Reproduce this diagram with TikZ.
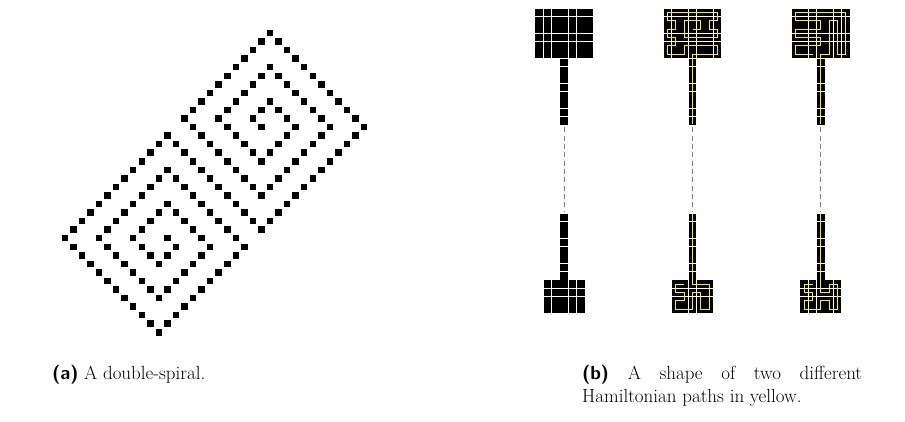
\documentclass[tikz,border=0pt]{standalone}
\tikzset{
  dsq/.style={fill=black},
  cellsq/.style={fill=black},
  ypath/.style={draw={rgb,255:red,255;green,240;blue,0}, line width=1.25pt, line join=miter},
  dashline/.style={draw=gray, line width=0.9pt, dash pattern=on 5pt off 3.33pt},
  captext/.style={anchor=base west, inner sep=0pt, font=\mycapfont},
}
\newcommand\mycapfont{\fontsize{19}{23}\selectfont}
\newcommand\dcell[2]{%
  \fill[dsq] ({270+8.55*((#1)-(#2))-3.25},{33+8.55*((#1)+(#2))-3.25}) rectangle ++(6.5,6.5);
  \fill[dsq] ({270+8.55*((#2)-(#1)-13)-3.25},{33+8.55*(35-(#1)-(#2))-3.25}) rectangle ++(6.5,6.5);
}
\begin{document}
\begin{tikzpicture}[x=1pt,y=-1pt]
\useasboundingbox (0,0) rectangle (905,421);

% ---------- (a) double spiral ----------
\dcell{5}{6}
\foreach \v in {4,5,6} {\dcell{4}{\v}}
\foreach \u in {5,6,7} {\dcell{\u}{4}}
\foreach \v in {5,...,8} {\dcell{7}{\v}}
\foreach \u in {2,...,6} {\dcell{\u}{8}}
\foreach \v in {2,...,7} {\dcell{2}{\v}}
\foreach \u in {3,...,9} {\dcell{\u}{2}}
\foreach \v in {3,...,10} {\dcell{9}{\v}}
\foreach \u in {0,...,8} {\dcell{\u}{10}}
\foreach \v in {0,...,9} {\dcell{0}{\v}}
\foreach \u in {1,...,11} {\dcell{\u}{0}}
\foreach \v in {1,...,12} {\dcell{11}{\v}}
\foreach \u in {0,...,10} {\dcell{\u}{12}}

% ---------- (b) shapes ----------
\foreach \k in {0,1,2} {
  \begin{scope}[shift={({535+128.333*\k},8.333)}, x=8.333pt, y=-8.333pt]
    \foreach \c in {0,...,6} {\foreach \r in {0,...,5} {\fill[cellsq] (\c+0.055,\r+0.055) rectangle (\c+0.945,\r+0.945);}}
    \foreach \r in {6,...,13} {\fill[cellsq] (3.055,\r+0.055) rectangle (3.945,\r+0.945);}
    \coordinate (stemtop\k) at (3.5,14);
  \end{scope}
  \begin{scope}[shift={({543.333+128.333*\k},280)}, x=8.333pt, y=-8.333pt]
    \foreach \c in {0,...,4} {\foreach \r in {0,...,3} {\fill[cellsq] (\c+0.055,\r+0.055) rectangle (\c+0.945,\r+0.945);}}
    \foreach \r in {-8,...,-1} {\fill[cellsq] (2.055,\r+0.055) rectangle (2.945,\r+0.945);}
    \coordinate (stembot\k) at (2.5,-8);
  \end{scope}
  \draw[dashline, shorten <=2.5pt, shorten >=1.5pt] (stemtop\k) -- (stembot\k);
}

% yellow paths, shape 2
\begin{scope}[shift={(663.333,8.333)}, x=8.333pt, y=-8.333pt]
  \draw[ypath] (3.5,2.5) -- (4.5,2.5) -- (4.5,1.5) -- (2.5,1.5) -- (2.5,3.5) -- (6.5,3.5) -- (6.5,2.5) -- (5.5,2.5) -- (5.5,1.5) -- (6.5,1.5) -- (6.5,0.5) -- (0.5,0.5) -- (0.5,1.5) -- (1.5,1.5) -- (1.5,2.5) -- (0.5,2.5) -- (0.5,3.5) -- (1.5,3.5) -- (1.5,4.5) -- (0.5,4.5) -- (0.5,5.5) -- (2.5,5.5) -- (2.5,4.5) -- (6.5,4.5) -- (6.5,5.5) -- (3.5,5.5) -- (3.5,13.9);
\end{scope}
\begin{scope}[shift={(671.667,280)}, x=8.333pt, y=-8.333pt]
  \draw[ypath] (2.5,-7.9) -- (2.5,0.5) -- (4.5,0.5) -- (4.5,3.5) -- (3.5,3.5) -- (3.5,1.5) -- (2.5,1.5) -- (2.5,3.5) -- (0.5,3.5) -- (0.5,2.5) -- (1.5,2.5) -- (1.5,1.5) -- (0.5,1.5) -- (0.5,0.5) -- (1.5,0.5);
\end{scope}

% yellow paths, shape 3
\begin{scope}[shift={(791.667,8.333)}, x=8.333pt, y=-8.333pt]
  \draw[ypath] (2.5,5.5) -- (0.5,5.5) -- (0.5,4.5) -- (3.5,4.5) -- (3.5,3.5) -- (0.5,3.5) -- (0.5,2.5) -- (3.5,2.5) -- (3.5,1.5) -- (0.5,1.5) -- (0.5,0.5) -- (6.5,0.5) -- (6.5,5.5) -- (5.5,5.5) -- (5.5,1.5) -- (4.5,1.5) -- (4.5,5.5) -- (3.5,5.5) -- (3.5,13.9);
\end{scope}
\begin{scope}[shift={(800,280)}, x=8.333pt, y=-8.333pt]
  \draw[ypath] (2.5,-7.9) -- (2.5,1.5) -- (3.5,1.5) -- (3.5,0.5) -- (4.5,0.5) -- (4.5,3.5) -- (3.5,3.5) -- (3.5,2.5) -- (2.5,2.5) -- (2.5,3.5) -- (0.5,3.5) -- (0.5,2.5) -- (1.5,2.5) -- (1.5,1.5) -- (0.5,1.5) -- (0.5,0.5) -- (1.5,0.5);
\end{scope}

% ---------- captions ----------
\node[captext] (capa) at (52,379) {\textsf{\textbf{(a)}} A double-spiral.};
\node[captext] (capb1) at (582,379) {\makebox[280pt][s]{\textsf{\textbf{(b)}} A shape of two different}};
\node[captext] (capb2) at (582,402) {Hamiltonian paths in yellow.};
\end{tikzpicture}
\end{document}
